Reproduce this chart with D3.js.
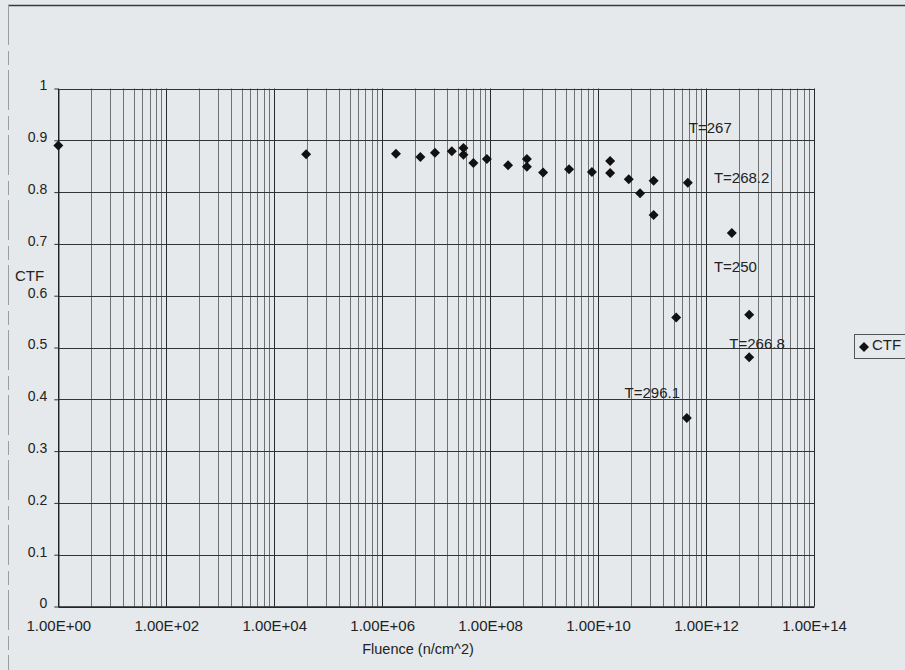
<!DOCTYPE html>
<html>
<head>
<meta charset="utf-8">
<script src="https://cdn.jsdelivr.net/npm/d3@7"></script>
<style>
  html, body { margin: 0; padding: 0; background: #e5e9eb; }
  svg { display: block; font-family: "Liberation Sans", Arial, sans-serif; }
</style>
</head>
<body>
<svg id="chart" width="905" height="670"></svg>
<script>
// ---- data ----
const fluence = [1, 3.9e4, 1.8e6, 5.1e6, 9.5e6, 1.95e7, 3.2e7, 3.2e7, 4.9e7, 8.7e7,
  2.15e8, 4.8e8, 4.8e8, 9.6e8, 2.9e9, 7.7e9, 1.67e10, 1.67e10, 3.7e10, 6.0e10,
  1.07e11, 1.07e11, 4.6e11, 3.0e12, 2.8e11, 6.3e12, 6.3e12, 4.4e11];
const ctf = [0.890, 0.873, 0.874, 0.868, 0.876, 0.879, 0.885, 0.872, 0.856, 0.864,
  0.852, 0.864, 0.849, 0.838, 0.844, 0.839, 0.860, 0.837, 0.825, 0.798,
  0.822, 0.756, 0.818, 0.721, 0.558, 0.563, 0.481, 0.364];
const annotText = ["T=267", "T=268.2", "T=250", "T=266.8", "T=296.1"];
const annotFluence = [4.8e11, 1.4e12, 1.4e12, 2.7e12, 3.1e10];
const annotCtf = [0.915, 0.818, 0.645, 0.497, 0.402];
const xTickValues = [1, 1e2, 1e4, 1e6, 1e8, 1e10, 1e12, 1e14];
const xTickLabels = ["1.00E+00", "1.00E+02", "1.00E+04", "1.00E+06", "1.00E+08", "1.00E+10", "1.00E+12", "1.00E+14"];
const yTickValues = [0, 0.1, 0.2, 0.3, 0.4, 0.5, 0.6, 0.7, 0.8, 0.9, 1];
const yTickLabels = ["0", "0.1", "0.2", "0.3", "0.4", "0.5", "0.6", "0.7", "0.8", "0.9", "1"];
const seriesName = "CTF";
const xTitle = "Fluence (n/cm^2)";
const yTitle = "CTF";

// ---- layout ----
const svg = d3.select("#chart");
const pL = 58.3, pR = 814, pT = 88.5, pB = 606.5;
const x = d3.scaleLog().domain([1, 1e14]).range([pL, pR]);
const y = d3.scaleLinear().domain([0, 1]).range([pB, pT]);

svg.append("rect").attr("width", 905).attr("height", 670).attr("fill", "#e5e9eb");

// outer frame (top and left edges visible)
svg.append("line").attr("x1", 8).attr("x2", 905).attr("y1", 5.5).attr("y2", 5.5)
  .attr("stroke", "#3a3a3a").attr("stroke-width", 1.3);
svg.append("line").attr("x1", 8.5).attr("x2", 8.5).attr("y1", 5).attr("y2", 670)
  .attr("stroke", "#9a9ea0").attr("stroke-width", 1).attr("stroke-dasharray", "40,6,14,5");

// minor vertical gridlines (Excel log base-100 style)
const minorVals = [];
for (let k = 0; k < 14; k += 2) {
  for (let m = 2; m <= 9; m++) {
    minorVals.push(Math.pow(10, k + 2 * Math.log10(m)));
  }
}
const g = svg.append("g");
g.selectAll("line.minor").data(minorVals).join("line")
  .attr("class", "minor")
  .attr("x1", d => Math.round(x(d)) + 0.5).attr("x2", d => Math.round(x(d)) + 0.5)
  .attr("y1", pT).attr("y2", pB)
  .attr("stroke", "#4a4a4a").attr("stroke-width", 1).attr("opacity", 0.75);

// major vertical gridlines
g.selectAll("line.majx").data(xTickValues).join("line")
  .attr("class", "majx")
  .attr("x1", d => Math.round(x(d)) + 0.5).attr("x2", d => Math.round(x(d)) + 0.5)
  .attr("y1", pT).attr("y2", pB)
  .attr("stroke", "#2a2a2a").attr("stroke-width", 1);

// horizontal gridlines
g.selectAll("line.majy").data(yTickValues).join("line")
  .attr("class", "majy")
  .attr("x1", pL).attr("x2", pR)
  .attr("y1", d => Math.round(y(d)) + 0.5).attr("y2", d => Math.round(y(d)) + 0.5)
  .attr("stroke", "#333").attr("stroke-width", 1.1);

// axes
const xAxis = d3.axisBottom(x).tickValues(xTickValues)
  .tickFormat((d, i) => xTickLabels[i]).tickSize(0).tickPadding(14);
const gx = svg.append("g").attr("transform", `translate(0,${pB})`).call(xAxis);
gx.select(".domain").attr("stroke", "#222").attr("stroke-width", 1.3);
gx.selectAll("text").attr("font-size", 15).attr("fill", "#222")
  .attr("font-family", "Liberation Sans, Arial, sans-serif");

const yAxis = d3.axisLeft(y).tickValues(yTickValues)
  .tickFormat((d, i) => yTickLabels[i]).tickSize(4).tickSizeOuter(0).tickPadding(7);
const gy = svg.append("g").attr("transform", `translate(${pL},0)`).call(yAxis);
gy.select(".domain").attr("stroke", "#222").attr("stroke-width", 1.3);
gy.selectAll(".tick line").attr("stroke", "#333");
gy.selectAll("text").attr("font-size", 14).attr("fill", "#222").attr("dy", "0.1em")
  .attr("font-family", "Liberation Sans, Arial, sans-serif");

// axis titles
svg.append("text").attr("x", 418).attr("y", 654).attr("text-anchor", "middle")
  .attr("font-size", 14.5).attr("fill", "#222").text(xTitle);
svg.append("text").attr("x", 29.5).attr("y", 281).attr("text-anchor", "middle")
  .attr("font-size", 15).attr("fill", "#222").text(yTitle);

// points
const diamond = d3.symbol().type(d3.symbolSquare).size(50);
const pts = fluence.map((f, i) => ({ f, c: ctf[i] }));
svg.append("g").selectAll("path").data(pts).join("path")
  .attr("d", diamond)
  .attr("transform", d => `translate(${x(d.f)},${y(d.c)}) rotate(45)`)
  .attr("fill", "#111");

// annotations
const ann = annotText.map((t, i) => ({ t, f: annotFluence[i], c: annotCtf[i] }));
svg.append("g").selectAll("text").data(ann).join("text")
  .attr("x", d => x(d.f)).attr("y", d => y(d.c))
  .attr("font-size", 15).attr("fill", "#222").text(d => d.t);

// legend
const lg = svg.append("g");
lg.append("rect").attr("x", 854.5).attr("y", 334.5).attr("width", 60).attr("height", 24)
  .attr("fill", "none").attr("stroke", "#555").attr("stroke-width", 1);
lg.append("path").attr("d", diamond).attr("transform", "translate(864,347) rotate(45)").attr("fill", "#111");
lg.append("text").attr("x", 872).attr("y", 349.5).attr("font-size", 15).attr("fill", "#222").text(seriesName);
</script>
</body>
</html>
